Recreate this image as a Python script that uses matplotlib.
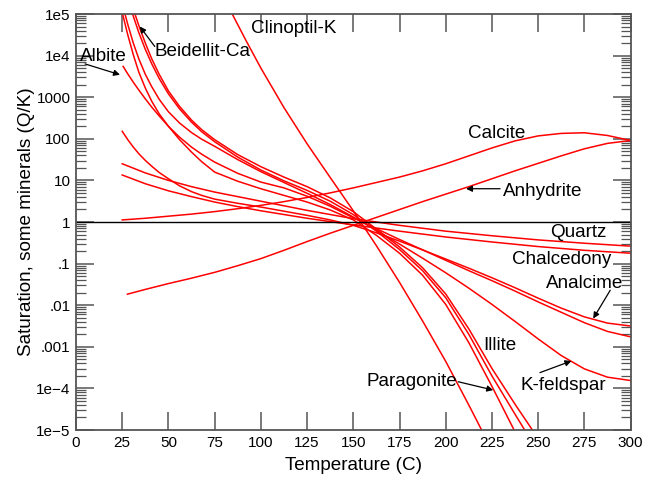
import numpy as np
import matplotlib
matplotlib.use("Agg")
import matplotlib.pyplot as plt
from matplotlib.ticker import FixedLocator, FixedFormatter, NullFormatter

plt.rcParams['font.family'] = ['Liberation Sans', 'DejaVu Sans']

# Saturation indices, log10(Q/K), versus temperature (C)
calcite_t = [25, 37.5, 50, 62.5, 75, 87.5, 100, 112.5, 125, 137.5, 150, 162.5, 175,
             187.5, 200, 212.5, 225, 237.5, 250, 262.5, 275, 287.5, 300]
calcite_v = [0.05, 0.09, 0.14, 0.19, 0.25, 0.32, 0.40, 0.49, 0.59, 0.70, 0.82, 0.95, 1.08,
             1.23, 1.40, 1.59, 1.78, 1.95, 2.07, 2.13, 2.145, 2.08, 1.96]

anhydrite_t = [27.8, 37.5, 50, 62.5, 75, 87.5, 100, 112.5, 125, 137.5, 150, 162.5, 175,
               187.5, 200, 212.5, 225, 237.5, 250, 262.5, 275, 287.5, 300]
anhydrite_v = [-1.735, -1.62, -1.48, -1.35, -1.21, -1.05, -0.88, -0.68, -0.47, -0.27, -0.08,
               0.11, 0.30, 0.49, 0.67, 0.85, 1.04, 1.23, 1.41, 1.59, 1.76, 1.89, 1.96]

quartz_t = [25, 37.5, 50, 62.5, 75, 87.5, 100, 112.5, 125, 137.5, 150, 175, 200, 225, 250, 275, 300]
quartz_v = [1.40, 1.18, 1.00, 0.85, 0.72, 0.61, 0.50, 0.39, 0.28, 0.18, 0.08, -0.08, -0.22,
            -0.33, -0.43, -0.51, -0.58]

chalcedony_t = [25, 37.5, 50, 62.5, 75, 87.5, 100, 112.5, 125, 137.5, 150, 175, 200, 225, 250, 275, 300]
chalcedony_v = [1.13, 0.92, 0.75, 0.61, 0.48, 0.37, 0.27, 0.18, 0.09, 0.01, -0.07, -0.22, -0.36,
                -0.48, -0.59, -0.68, -0.75]

t_low = [28, 31, 34, 37.5, 41, 45, 50, 56, 62.5, 68, 75, 87.5, 100, 112.5, 125, 137.5, 150]
t_high = [162.5, 175, 187.5, 200, 212.5, 225, 237.5, 250, 262.5, 275, 287.5, 300]

albite_t = [25.5] + t_low + t_high
albite_v = [3.74, 3.56, 3.36, 3.17, 2.96, 2.76, 2.55, 2.30, 2.04, 1.80, 1.63, 1.44, 1.17, 0.96,
            0.82, 0.62, 0.38, 0.10, -0.16, -0.42, -0.67, -0.92, -1.17, -1.41, -1.66, -1.92,
            -2.17, -2.42, -2.63, -2.76]

analcime_t = [25] + t_low + t_high
analcime_v = [2.18, 1.98, 1.80, 1.64, 1.48, 1.34, 1.19, 1.04, 0.87, 0.73, 0.64, 0.55, 0.45, 0.36,
              0.26, 0.16, 0.05, -0.08, -0.26, -0.46, -0.67, -0.89, -1.11, -1.34, -1.58, -1.83,
              -2.07, -2.28, -2.43, -2.50]

kfeldspar_t = [26.5] + t_low + t_high
kfeldspar_v = [5.0, 4.75, 4.30, 3.92, 3.55, 3.25, 2.95, 2.65, 2.38, 2.15, 1.99, 1.82, 1.50, 1.21,
               0.95, 0.69, 0.42, 0.12, -0.20, -0.53, -0.87, -1.22, -1.59, -1.98, -2.39, -2.81,
               -3.21, -3.53, -3.73, -3.81]

paragonite_t = [25.2] + t_low + [162.5, 175, 187.5, 200, 212.5, 225, 237, 245]
paragonite_v = [5.0, 4.50, 4.02, 3.60, 3.22, 2.90, 2.60, 2.30, 1.98, 1.68, 1.45, 1.20, 0.98, 0.80,
                0.64, 0.48, 0.29, 0.05, -0.32, -0.75, -1.28, -1.98, -2.90, -3.95, -5.0, -5.75]

illite_t = [30.6] + t_low[2:] + [162.5, 175, 187.5, 200, 212.5, 225, 237.5, 242.3, 250]
illite_v = [5.0, 4.55, 4.15, 3.80, 3.45, 3.08, 2.72, 2.40, 2.17, 1.93, 1.56, 1.25, 0.99, 0.76,
            0.50, 0.18, -0.22, -0.66, -1.17, -1.82, -2.70, -3.70, -4.62, -4.97, -5.5]

beidellite_t = [31.9] + t_low[2:] + [162.5, 175, 187.5, 200, 212.5, 225, 237.5, 246.6, 255]
beidellite_v = [5.0, 4.72, 4.30, 3.92, 3.55, 3.15, 2.78, 2.45, 2.22, 1.98, 1.62, 1.33, 1.08, 0.85,
                0.58, 0.25, -0.17, -0.60, -1.10, -1.73, -2.57, -3.52, -4.38, -4.98, -5.5]

clinoptil_t = [84.5, 92, 100, 112.5, 125, 137.5, 150, 162.5, 175, 187.5, 200, 212.5, 220]
clinoptil_v = [5.0, 4.36, 3.70, 2.75, 1.88, 1.07, 0.27, -0.57, -1.45, -2.38, -3.35, -4.40, -5.05]

series = [
    (calcite_t, calcite_v), (anhydrite_t, anhydrite_v), (quartz_t, quartz_v),
    (chalcedony_t, chalcedony_v), (albite_t, albite_v), (analcime_t, analcime_v),
    (kfeldspar_t, kfeldspar_v), (illite_t, illite_v), (paragonite_t, paragonite_v),
    (beidellite_t, beidellite_v), (clinoptil_t, clinoptil_v),
]

x_ticks = [0, 25, 50, 75, 100, 125, 150, 175, 200, 225, 250, 275, 300]
y_ticks = [1e-5, 1e-4, 1e-3, 1e-2, 1e-1, 1, 10, 100, 1000, 1e4, 1e5]
y_labels = ["1e\u22125", "1e\u22124", ".001", ".01", ".1", "1", "10", "100", "1000", "1e4", "1e5"]

fig = plt.figure(figsize=(6.48, 4.83), dpi=100)
ax = fig.add_axes([0.1173, 0.1097, 0.8558, 0.8613])

for t, v in series:
    ax.plot(t, 10.0 ** np.asarray(v), color="red", lw=1.1, solid_joinstyle="round")

ax.axhline(1.0, color="black", lw=1.0)

ax.set_xlim(0, 300)
ax.set_yscale("log")
ax.set_ylim(1e-5, 1e5)

ax.xaxis.set_major_locator(FixedLocator(x_ticks))
ax.yaxis.set_major_locator(FixedLocator(y_ticks))
ax.yaxis.set_major_formatter(FixedFormatter(y_labels))
minor = [m * 10.0 ** e for e in range(-5, 5) for m in range(2, 10)]
ax.yaxis.set_minor_locator(FixedLocator(minor))
ax.yaxis.set_minor_formatter(NullFormatter())

spine_col = "#555555"
for s in ax.spines.values():
    s.set_color(spine_col)
    s.set_linewidth(1.3)
ax.tick_params(axis="both", which="both", direction="in", top=True, right=True,
               color=spine_col, labelsize=11, pad=4)
ax.tick_params(axis="x", which="major", length=13, width=1.1)
ax.tick_params(axis="y", which="major", length=13, width=1.1)
ax.tick_params(axis="y", which="minor", length=7, width=0.9)

ax.set_xlabel("Temperature (C)", fontsize=13.6, labelpad=5)
ax.set_ylabel("Saturation, some minerals (Q/K)", fontsize=13.6, labelpad=1)

txt = dict(fontsize=13.6, ha="center", va="center")
ax.text(118, 10 ** 4.65, "Clinoptil-K", **txt)
ax.text(68.2, 10 ** 4.09, "Beidellit-Ca", **txt)
ax.text(14.6, 10 ** 3.98, "Albite", **txt)
ax.text(227.5, 10 ** 2.13, "Calcite", **txt)
ax.text(252.6, 10 ** 0.73, "Anhydrite", **txt)
ax.text(271.5, 10 ** -0.25, "Quartz", **txt)
ax.text(262.5, 10 ** -0.90, "Chalcedony", **txt)
ax.text(275, 10 ** -1.49, "Analcime", **txt)
ax.text(229.5, 10 ** -2.98, "Illite", **txt)
ax.text(181.7, 10 ** -3.83, "Paragonite", **txt)
ax.text(263.7, 10 ** -3.92, "K-feldspar", **txt)

arrow = dict(arrowstyle="-|>", color="black", lw=0.9, mutation_scale=9, shrinkA=0, shrinkB=0)
ax.annotate("", xy=(34.5, 10 ** 4.70), xytext=(42.6, 10 ** 4.22), arrowprops=arrow)
ax.annotate("", xy=(23.8, 10 ** 3.54), xytext=(4.9, 10 ** 3.80), arrowprops=arrow)
ax.annotate("", xy=(211, 10 ** 0.80), xytext=(229.4, 10 ** 0.80), arrowprops=arrow)
ax.annotate("", xy=(279.8, 10 ** -2.32), xytext=(289, 10 ** -1.64), arrowprops=arrow)
ax.annotate("", xy=(225.7, 10 ** -4.04), xytext=(206.8, 10 ** -3.84), arrowprops=arrow)
ax.annotate("", xy=(268, 10 ** -3.34), xytext=(251, 10 ** -3.62), arrowprops=arrow)

fig.savefig("out.png", dpi=100)
